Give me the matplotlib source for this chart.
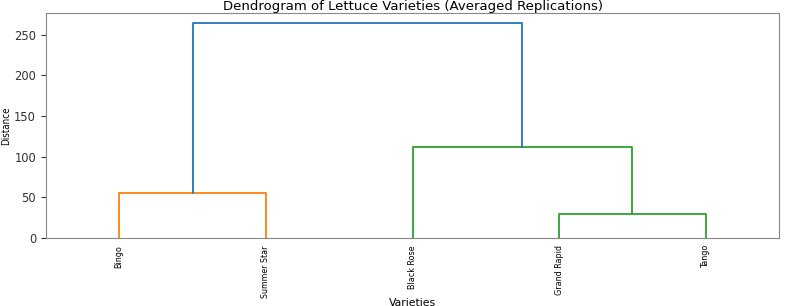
import numpy as np
import matplotlib.pyplot as plt
from matplotlib import font_manager

# leaf order and merge heights
varieties = ['Bingo', 'Summer Star', 'Black Rose', 'Grand Rapid', 'Tango']
# merges: (left node, right node, height) ; nodes 0-4 are leaves, 5+ are merges
merges = [(3, 4, 29.5), (0, 1, 55.0), (2, 5, 112.5), (6, 7, 264.5)]
link_colors = ['#2ca02c', '#ff7f0e', '#2ca02c', '#1f77b4']

# narrow font for the rotated labels if one exists
names = {f.name for f in font_manager.fontManager.ttflist}
narrow = 'Liberation Sans Narrow' if 'Liberation Sans Narrow' in names else 'DejaVu Sans'
narrow_stretch = 'normal' if narrow == 'Liberation Sans Narrow' else 'condensed'

fig, ax = plt.subplots(figsize=(7.91, 3.06), dpi=100)

xpos = {i: 5 + 10 * i for i in range(len(varieties))}
ypos = {i: 0.0 for i in range(len(varieties))}
for k, (a, b, h) in enumerate(merges):
    node = len(varieties) + k
    ax.plot([xpos[a], xpos[a], xpos[b], xpos[b]], [ypos[a], h, h, ypos[b]],
            color=link_colors[k], linewidth=1.3)
    xpos[node] = (xpos[a] + xpos[b]) / 2
    ypos[node] = h

ax.set_xlim(0, 10 * len(varieties))
ax.set_ylim(0, 277)
ax.set_xticks([5 + 10 * i for i in range(len(varieties))])
ax.set_xticklabels(varieties, rotation=90, fontsize=6.4, family=narrow, fontstretch=narrow_stretch)
ax.set_yticks([0, 50, 100, 150, 200, 250])
ax.tick_params(axis='y', labelsize=8.3, colors='#333333')
ax.tick_params(axis='x', length=0, pad=5)
ax.set_title('Dendrogram of Lettuce Varieties (Averaged Replications)', fontsize=9.5, pad=2)
ax.set_xlabel('Varieties', fontsize=7.8, labelpad=0)
ax.set_ylabel('Distance', fontsize=7, family=narrow, fontstretch=narrow_stretch, labelpad=2)
for s in ax.spines.values():
    s.set_color('#888888')

fig.subplots_adjust(left=0.058, right=0.985, top=0.958, bottom=0.222)
fig.savefig('out.png', dpi=100)
